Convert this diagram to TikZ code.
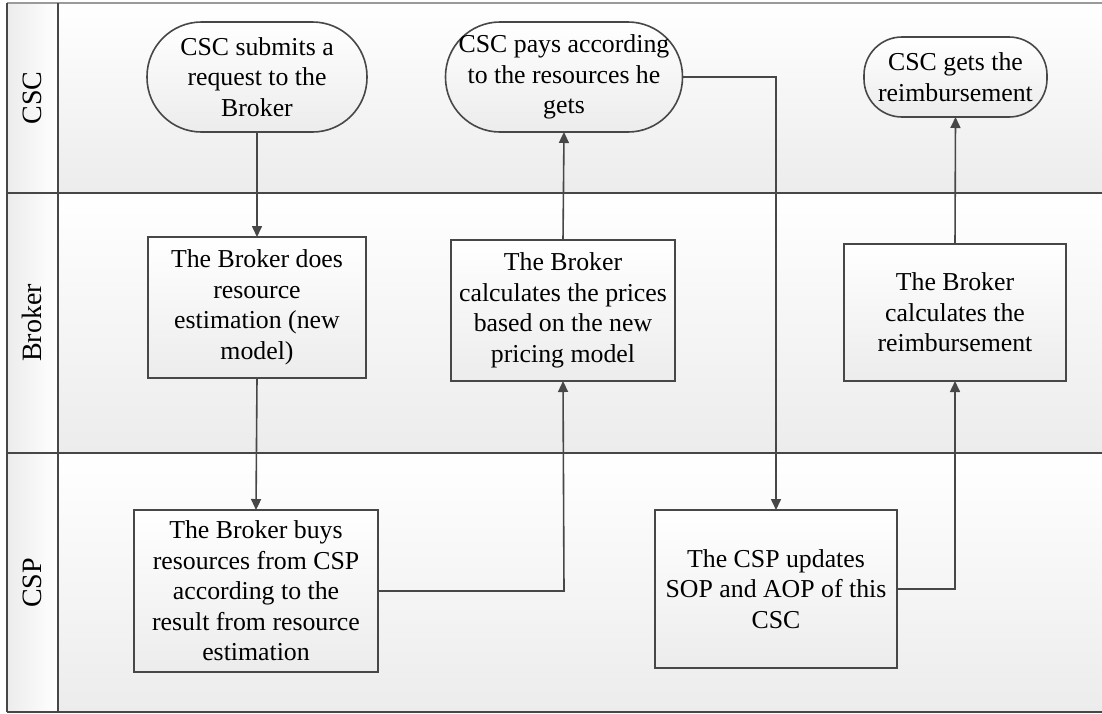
\documentclass[tikz,border=0pt]{standalone}
\usepackage{fontspec}
\setmainfont{Liberation Serif}
\usetikzlibrary{arrows.meta}
\definecolor{edge}{HTML}{474747}
\definecolor{frameline}{HTML}{9A9A9A}
\definecolor{shadebot}{HTML}{ECECEC}
\begin{document}
\begin{tikzpicture}[x=1pt,y=-1pt,
  boxtext/.style={font=\fontsize{25.8}{30.5}\selectfont, align=center, text=black},
  process/.style={boxtext, draw=edge, line width=1.6pt, top color=white, bottom color=shadebot,
    inner sep=0pt, outer sep=0pt},
  terminal/.style={process},
  flow/.style={draw=edge, line width=1.6pt, -{Triangle[length=11pt,width=10pt]}},
  lanelabel/.style={font=\fontsize{28}{32}\selectfont, rotate=90},
  divider/.style={draw=edge, line width=1.6pt}
]
\useasboundingbox (0,0) rectangle (1102,713);

% lane backgrounds
\shade[top color=white, bottom color=shadebot] (58,3) rectangle (1102,193);
\shade[top color=white, bottom color=shadebot] (58,193) rectangle (1102,453);
\shade[top color=white, bottom color=shadebot] (58,453) rectangle (1102,712);
% label column
\shade[left color=shadebot, right color=white] (7,3) rectangle (58,712);

% frame and dividers
\draw[frameline, line width=1.6pt] (7,3) -- (1102,3);
\draw[divider] (7,3) -- (7,712);
\draw[divider] (58,3) -- (58,712);
\draw[divider] (7,193) -- (1102,193);
\draw[divider] (7,453) -- (1102,453);
\draw[divider] (7,712) -- (1102,712);

% lane labels
\node[lanelabel] (lcsc) at (32,98) {CSC};
\node[lanelabel] (lbroker) at (32,323) {Broker};
\node[lanelabel] (lcsp) at (32,583) {CSP};

% CSC lane
\node[terminal, rounded corners=54.5pt, minimum width=220pt, minimum height=110pt] (submit) at (257,77)
  {CSC submits a\\request to the\\Broker};
\node[terminal, rounded corners=54.5pt, minimum width=237pt, minimum height=110pt] (pays) at (564,77)
  {CSC pays according\\to the resources he\\gets};
\node[terminal, rounded corners=38pt, minimum width=183pt, minimum height=80pt] (gets) at (955.5,77)
  {CSC gets the\\reimbursement};

% Broker lane
\node[process, minimum width=218pt, minimum height=141pt] (estimate) at (257,307.5)
  {The Broker does\\resource\\estimation (new\\model)};
\node[process, minimum width=224pt, minimum height=141pt] (prices) at (563,310.5)
  {The Broker\\calculates the prices\\based on the new\\pricing model};
\node[process, minimum width=222pt, minimum height=137pt] (reimb) at (955,312.5)
  {The Broker\\calculates the\\reimbursement};

% CSP lane
\node[process, minimum width=244pt, minimum height=162pt] (buys) at (256,591)
  {The Broker buys\\resources from CSP\\according to the\\result from resource\\estimation};
\node[process, minimum width=242pt, minimum height=158pt] (updates) at (776,589)
  {The CSP updates\\SOP and AOP of this\\CSC};

% connectors
\coordinate (c1) at (564,591);
\coordinate (c2) at (776,77);
\coordinate (c3) at (955,589);
\draw[flow] (submit.south) -- (estimate.north);
\draw[flow] (estimate.south) -- (buys.north);
\draw[flow] (buys.east) -- (c1) -- (prices.south);
\draw[flow] (prices.north) -- (pays.south);
\draw[flow] (pays.east) -- (c2) -- (updates.north);
\draw[flow] (updates.east) -- (c3) -- (reimb.south);
\draw[flow] (reimb.north) -- (gets.south);
\end{tikzpicture}
\end{document}
